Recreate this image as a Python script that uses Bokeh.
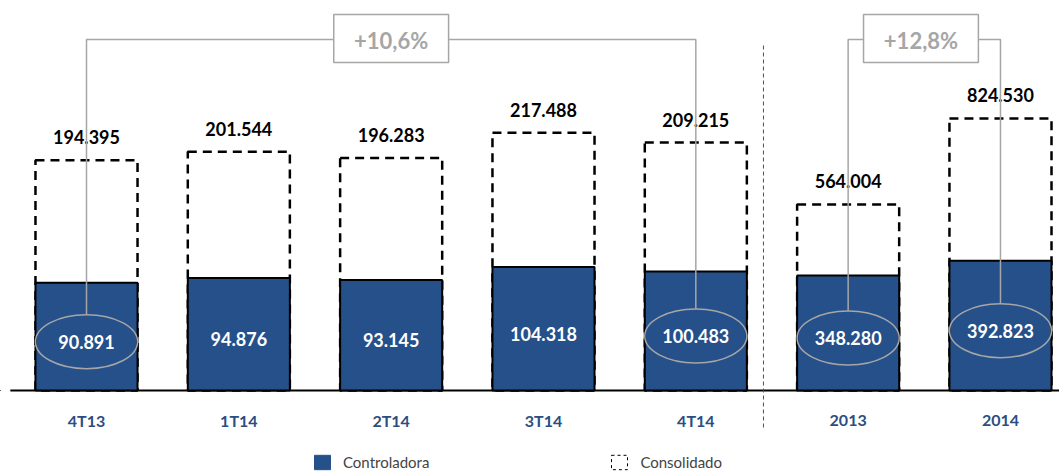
from bokeh.plotting import figure
from bokeh.models import Range1d, Legend, LegendItem, ColumnDataSource
from bokeh.core.properties import value
from bokeh.embed import file_html
from bokeh.resources import INLINE

# ---------------- data ----------------
categories = ["4T13", "1T14", "2T14", "3T14", "4T14", "2013", "2014"]
quarters = categories[:5]
years = categories[5:]
consolidado_q = [194395, 201544, 196283, 217488, 209215]
controladora_q = [90891, 94876, 93145, 104318, 100483]
consolidado_a = [564004, 824530]
controladora_a = [348280, 392823]
growth_labels = ["+10,6%", "+12,8%"]
series_names = ["Controladora", "Consolidado"]

# ---------------- styling / layout constants ----------------
BLUE = "#25508A"
LABEL_BLUE = "#2B4E82"
GRAY = "#A6A6A6"
FONT = value("Lato")

W, H = 1059, 471
BASE = 390            # px from frame top to baseline
Q_PX = 1.185 / 1000   # px per unit (quarters)
A_PX = 0.33 / 1000    # px per unit (years)
X_PX = 152.33         # px per category
x0 = -86 / X_PX
BAR_W = 0.67


def fmt(v):
    return f"{v:,}".replace(",", ".")


xs = list(range(len(categories)))
xq = xs[:5]
xa = xs[5:]

p = figure(width=W, height=H,
           x_range=Range1d(x0, x0 + W / X_PX),
           y_range=Range1d(-(H - BASE) / Q_PX, BASE / Q_PX),
           x_axis_location=None, y_axis_location=None,
           output_backend="svg", toolbar_location=None, min_border=0)
p.extra_y_ranges = {"annual": Range1d(-(H - BASE) / A_PX, BASE / A_PX)}
p.outline_line_color = None
p.grid.visible = False
p.background_fill_color = "white"


def make_source(x, cats, cons, ctrl, px):
    return ColumnDataSource(dict(
        x=x, cat=cats, cons=cons, ctrl=ctrl,
        cons_lbl=[fmt(v) for v in cons],
        ctrl_lbl=[fmt(v) for v in ctrl],
        mid=[v / 2 - 5 / px for v in ctrl],
        cat_y=[-30 / px for _ in x],
    ))


sq = make_source(xq, quarters, consolidado_q, controladora_q, Q_PX)
sa = make_source(xa, years, consolidado_a, controladora_a, A_PX)

# baseline and divider (drawn first, under the bars)
p.line(x=[-0.5, x0 + W / X_PX], y=[0, 0], line_color="black", line_width=2)
p.line(x=[4.444, 4.444], y=[345 / Q_PX, -37 / Q_PX],
       line_color="#2F5597", line_width=1, line_dash="4 3")

for src, rng, px in [(sq, "default", Q_PX), (sa, "annual", A_PX)]:
    kw = {} if rng == "default" else {"y_range_name": rng}
    p.vbar(x="x", top="cons", bottom=0, width=BAR_W, source=src,
           fill_color=None, line_color="black", line_width=2.5,
           line_dash="9 6", **kw)
    p.vbar(x="x", top="ctrl", bottom=0, width=BAR_W, source=src,
           fill_color=BLUE, line_color="black", line_width=2, **kw)
    p.text(x="x", y="cons", text="cons_lbl", source=src, text_font=FONT,
           text_font_style="bold", text_font_size="18px", text_color="black",
           text_align="center", text_baseline="middle", y_offset=-23, **kw)
    p.text(x="x", y="mid", text="ctrl_lbl", source=src, text_font=FONT,
           text_font_style="bold", text_font_size="18px", text_color="white",
           text_align="center", text_baseline="middle", **kw)
    p.text(x="x", y="cat_y", text="cat", source=src, text_font=FONT,
           text_font_style="bold", text_font_size="16px", text_color=LABEL_BLUE,
           text_align="center", text_baseline="middle", **kw)


# ellipses around first/last of each group + bracket connectors
def bracket(src, idx_a, idx_b, px, box_x, label, rng):
    kw = {} if rng == "default" else {"y_range_name": rng}
    d = src.data
    ex = [d["x"][idx_a], d["x"][idx_b]]
    ey = [d["mid"][idx_a], d["mid"][idx_b]]
    p.ellipse(x=ex, y=ey, width=BAR_W, height=54 / px, fill_color=None,
              line_color=GRAY, line_width=1.5, **kw)
    top_a = ey[0] + 27 / px
    top_b = ey[1] + 27 / px
    lvl = 351 / px
    half = 0.377
    p.multi_line(xs=[[ex[0], ex[0], box_x - half], [box_x + half, ex[1], ex[1]]],
                 ys=[[top_a, lvl, lvl], [lvl, lvl, top_b]],
                 line_color=GRAY, line_width=1.5, **kw)
    p.rect(x=[box_x], y=[352 / px], width=2 * half, height=48 / px,
           fill_color="white", line_color=GRAY, line_width=1.5, **kw)
    p.text(x=[box_x], y=[350 / px], text=[label], text_font=FONT,
           text_font_style="bold", text_font_size="22px", text_color=GRAY,
           text_align="center", text_baseline="middle", **kw)


bracket(sq, 0, 4, Q_PX, 2.0, growth_labels[0], "default")
bracket(sa, 0, 1, A_PX, 5.478, growth_labels[1], "annual")

# legend (off-screen dummy renderers for legend glyph styling)
dummy = ColumnDataSource(dict(x=[-20], top=[1]))
leg_ctrl = p.vbar(x="x", top="top", width=0.5, source=dummy,
                  fill_color=BLUE, line_color=BLUE)
leg_cons = p.vbar(x="x", top="top", width=0.5, source=dummy,
                  fill_color=None, line_color="black", line_width=1,
                  line_dash="3 3")
legend = Legend(items=[LegendItem(label=series_names[0], renderers=[leg_ctrl]),
                       LegendItem(label=series_names[1], renderers=[leg_cons])],
                location=(312, 0), orientation="horizontal", spacing=180,
                glyph_width=20, glyph_height=18, label_height=18,
                label_standoff=11, padding=0, margin=0,
                label_text_font="Lato", label_text_font_size="15px",
                border_line_color=None, background_fill_alpha=0)
p.add_layout(legend)

open("out.html", "w").write(file_html(p, INLINE))
